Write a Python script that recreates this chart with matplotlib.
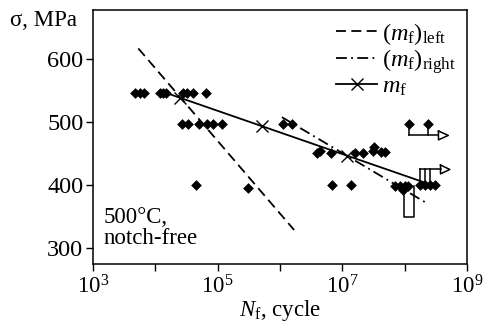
import numpy as np
import matplotlib
matplotlib.use("Agg")
import matplotlib.pyplot as plt
from matplotlib.ticker import FixedLocator, FuncFormatter, LogLocator, NullFormatter

plt.rcParams['font.family'] = ['Liberation Serif', 'DejaVu Serif']
plt.rcParams['mathtext.fontset'] = 'custom'
plt.rcParams['mathtext.rm'] = 'Liberation Serif'
plt.rcParams['mathtext.it'] = 'Liberation Serif:italic'
plt.rcParams['font.size'] = 16.5

# test data, log10(Nf) and stress in MPa
logN_pts = [3.674, 3.754, 3.819, 4.075, 4.128, 4.172, 4.440, 4.514, 4.610, 4.814,
            4.429, 4.530, 4.701, 4.825, 4.931, 5.066,
            4.653, 5.493, 6.045, 6.189,
            6.59, 6.64, 6.82, 6.83, 7.136, 7.205, 7.329,
            7.50, 7.515, 7.618, 7.687,
            7.848, 7.928, 8.008, 8.061, 7.981,
            8.249, 8.329, 8.409, 8.490,
            8.077, 8.382]
sig_pts = [547, 547, 547, 547, 547, 547, 547, 547, 547, 547,
           497, 497, 497, 497, 497, 497,
           400, 396, 497, 497,
           451, 454, 451, 400, 400, 451, 451,
           454, 461, 453, 453,
           398, 398, 398, 398, 393,
           401, 401, 401, 401,
           497, 497]

# fitted lines
left_logN = [3.727, 6.226]
left_sig = [617, 329]
right_logN = [6.03, 8.38]
right_sig = [508, 370]
mf_logN = [4.156, 4.40, 5.71, 7.07, 8.30]
mf_sig = [547, 538.6, 493.7, 447.1, 405]

# run-out markers
run_up_logN = [8.077, 8.382]
run_up_sig = 497
run_up_base = 479
run_up_end = [8.542, 8.70]
run_lo_logN = [8.249, 8.329, 8.409]
run_lo_sig = 401
run_lo_top = 425
run_lo_end = [8.575, 8.724]
box_logN = [7.988, 8.148]
box_sig = [398, 350]

fig = plt.figure(figsize=(4.85, 3.25), dpi=100)
ax = fig.add_axes([93/485, 1-264/325, 374/485, 254/325])

N = 10**np.array(logN_pts)
ax.scatter(N, sig_pts, marker='D', s=30, color='black', zorder=3, linewidths=0)

l1, = ax.plot(10**np.array(left_logN), left_sig, color='black', ls=(0, (5.5, 3)), lw=1.3)
l2, = ax.plot(10**np.array(right_logN), right_sig, color='black', ls=(0, (6, 2.4, 1, 2.4)), lw=1.3)
l3, = ax.plot(10**np.array(mf_logN), mf_sig, color='black', lw=1.3, marker='x', ms=8,
              mew=1.0, markevery=[1, 2, 3])

# upper run-out
for lg in run_up_logN:
    ax.plot([10**lg, 10**lg], [run_up_sig, run_up_base], color='black', lw=1.1)
ax.plot([10**run_up_logN[0], 10**run_up_end[0]], [run_up_base, run_up_base], color='black', lw=1.1)
ax.plot([10**run_up_end[0], 10**run_up_end[0], 10**run_up_end[1], 10**run_up_end[0]],
        [run_up_base + 7, run_up_base - 7, run_up_base, run_up_base + 7], color='black', lw=1.1)
# lower run-out
for lg in run_lo_logN:
    ax.plot([10**lg, 10**lg], [run_lo_sig, run_lo_top], color='black', lw=1.1)
ax.plot([10**run_lo_logN[0], 10**run_lo_end[0]], [run_lo_top, run_lo_top], color='black', lw=1.1)
ax.plot([10**run_lo_end[0], 10**run_lo_end[0], 10**run_lo_end[1], 10**run_lo_end[0]],
        [run_lo_top + 7, run_lo_top - 7, run_lo_top, run_lo_top + 7], color='black', lw=1.1)
# tall box
bx = [10**box_logN[0], 10**box_logN[0], 10**box_logN[1], 10**box_logN[1]]
ax.plot(bx, [box_sig[0], box_sig[1], box_sig[1], box_sig[0]], color='black', lw=1.1)

ax.set_xscale('log')
ax.set_xlim(1e3, 1e9)
ax.set_ylim(275, 678)

ax.xaxis.set_major_locator(FixedLocator([10.0**k for k in range(3, 10)]))
ax.xaxis.set_major_formatter(FuncFormatter(
    lambda v, p: r'$10^{%d}$' % round(np.log10(v)) if round(np.log10(v)) % 2 == 1 else ''))
ax.xaxis.set_minor_locator(LogLocator(base=10, subs=np.arange(2, 10)))
ax.xaxis.set_minor_formatter(NullFormatter())
ax.set_yticks([300, 400, 500, 600])

ax.tick_params(which='major', direction='out', length=5, width=1, top=False, right=False)
ax.tick_params(which='minor', direction='out', length=3, width=0.8)
ax.tick_params(axis='x', pad=3)
ax.tick_params(axis='y', pad=2, labelsize=17.5)
for s in ax.spines.values():
    s.set_linewidth(1.1)

ax.set_xlabel(r'$N_\mathrm{f}$, cycle', labelpad=0)
fig.text(10/485, 1-20/325, 'σ, MPa', va='center', ha='left')

ax.text(0.027, 0.06, '500°C,\nnotch-free', transform=ax.transAxes, ha='left', va='bottom',
        linespacing=1.0)

ax.legend([l1, l2, l3],
          [r'$(m_\mathrm{f})_\mathrm{left}$', r'$(m_\mathrm{f})_\mathrm{right}$', r'$m_\mathrm{f}$'],
          loc='upper right', frameon=False, handlelength=1.7, handletextpad=0.2,
          labelspacing=0.0, borderaxespad=0.05, fontsize=17.5)

fig.savefig('out.png', dpi=100)
